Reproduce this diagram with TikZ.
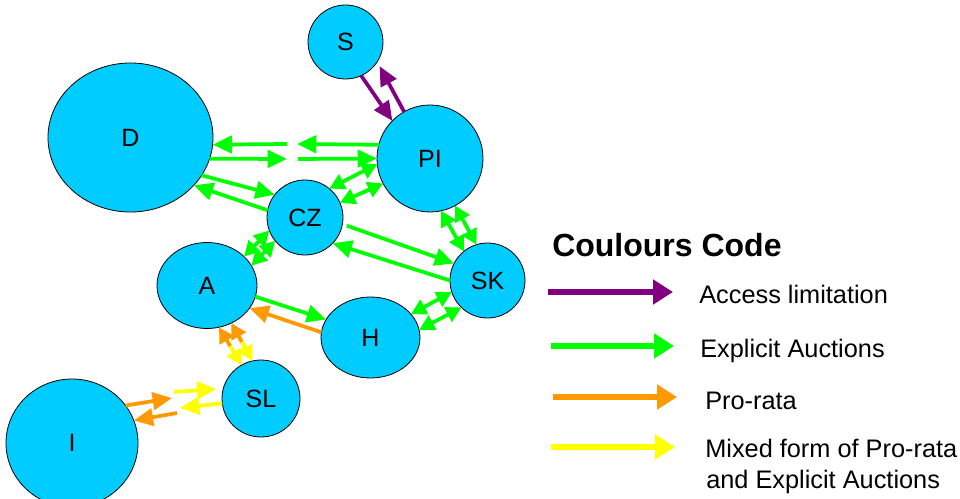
\documentclass[tikz,border=0pt]{standalone}
\usepackage{fontspec}
\setmainfont{Liberation Sans}
\usetikzlibrary{arrows.meta,shapes.geometric,calc}
\definecolor{cfill}{RGB}{0,204,255}
\definecolor{cpur}{RGB}{128,0,128}
\definecolor{cgrn}{RGB}{0,255,0}
\definecolor{corg}{RGB}{255,153,0}
\definecolor{cyel}{RGB}{255,255,0}
\tikzset{
 hd/.tip={Triangle[length=14.5pt 0 0,width=13pt 0 0]},
 hds/.tip={Triangle[length=11.5pt 0 0,width=12pt 0 0]},
 lhd/.tip={Triangle[length=15pt 0 0,width=18pt 0 0]},
 country/.style={ellipse,draw=black,line width=0.6pt,fill=cfill,inner sep=0pt,outer sep=0pt,font=\fontsize{18.75}{22}\selectfont},
 lnk/.style={line width=2.8pt},
 pur/.style={lnk,cpur,-hd},
 grn/.style={lnk,cgrn,-hd},
 grntwo/.style={lnk,cgrn,hds-hds},
 org/.style={lnk,corg,-hd},
 yel/.style={lnk,cyel,-hd},
 orgs/.style={lnk,corg,-hds},
 yels/.style={lnk,cyel,-hds},
 key/.style={line width=4pt,-lhd},
 keytext/.style={anchor=base west,inner sep=0pt,font=\fontsize{19}{23}\selectfont},
}
\begin{document}
\begin{tikzpicture}[x=0.75pt,y=-0.75pt]
\useasboundingbox (0,0) rectangle (960,499);

% countries
\node[country,minimum width=56.25pt,minimum height=55.5pt] (S) at (345.5,42) {S};
\node[country,minimum width=123.75pt,minimum height=111.75pt] (D) at (130.5,137.5) {D};
\node[country,minimum width=79.5pt,minimum height=80.25pt] (PI) at (430,158.5) {PI};
\node[country,minimum width=57pt,minimum height=56.25pt] (CZ) at (305,217.5) {CZ};
\node[country,minimum width=75pt,minimum height=64.5pt] (A) at (207,285.5) {A};
\node[country,minimum width=56.25pt,minimum height=56.25pt] (SK) at (487.5,280.5) {SK};
\node[country,minimum width=74.25pt,minimum height=60.75pt] (H) at (370.5,337.5) {H};
\node[country,minimum width=58.5pt,minimum height=57.75pt] (SL) at (261,398.5) {SL};
\node[country,minimum width=99pt,minimum height=96pt] (I) at (72,443) {I};

% helper coordinates (gaps in chained arrows)
\coordinate (t0) at (287,144);
\coordinate (t1) at (297,144);
\coordinate (b0) at (287,159);
\coordinate (b1) at (298,159);
\coordinate (u1) at (172,398);
\coordinate (u2) at (174,392);
\coordinate (l1) at (180,408);
\coordinate (l2) at (177,413);

% S - PI (access limitation)
\draw[pur] (S.-65) -- (PI.135);
\draw[pur,shorten >=3.75pt] (PI.119) -- (S.-32);

% D - PI
\draw[grn] (PI.165) -- (t1);
\draw[grn] (t0) -- (D.-5);
\draw[grn] (D.-15) -- (b0);
\draw[grn] (b1) -- (PI.180);

% D - CZ
\draw[grn] (D.-28) -- (CZ.143);
\draw[grn] (CZ.169) -- (D.-37);

% CZ - PI
\draw[grntwo] (CZ.50) -- (PI.186);
\draw[grntwo] (CZ.23) -- (PI.208);

% PI - SK
\draw[grntwo] (PI.-78) -- (SK.129);
\draw[grntwo] (PI.-62) -- (SK.107);

% CZ - SK
\draw[grn,shorten <=3.5pt] (CZ.-10) -- (SK.153);
\draw[grn] (SK.180) -- (CZ.-43);

% CZ - A
\draw[grntwo] (A.38) -- (CZ.200);
\draw[grntwo] (A.24) -- (CZ.218);

% SK - H
\draw[grntwo] (H.30) -- (SK.198);
\draw[grntwo] (H.9) -- (SK.226);

% A - H
\draw[grn] (A.-13) -- (H.158);
\draw[org] (H.174) -- (A.-28);

% A - SL (mixed)
\draw[orgs] ($(A.-74)!0.5!(SL.120)$) -- (A.-74);
\draw[yels] ($(A.-74)!0.5!(SL.120)$) -- (SL.120);
\draw[orgs] ($(A.-57)!0.5!(SL.103)$) -- (A.-57);
\draw[yels] ($(A.-57)!0.5!(SL.103)$) -- (SL.103);

% I - SL (mixed)
\draw[org] (I.35) -- (u1);
\draw[yel,shorten >=5.25pt] (u2) -- (SL.165);
\draw[yel] (SL.187) -- (l1);
\draw[org] (l2) -- (I.20);

% legend
\node[anchor=base west,inner sep=0pt,font=\bfseries\fontsize{24}{28}\selectfont] (title) at (552,256) {Coulours Code};
\coordinate (k1a) at (548,292); \coordinate (k1b) at (673,292);
\coordinate (k2a) at (551,346); \coordinate (k2b) at (674,346);
\coordinate (k3a) at (553,397); \coordinate (k3b) at (677,397);
\coordinate (k4a) at (551,447); \coordinate (k4b) at (675,447);
\draw[key,cpur] (k1a) -- (k1b);
\draw[key,cgrn] (k2a) -- (k2b);
\draw[key,corg] (k3a) -- (k3b);
\draw[key,cyel] (k4a) -- (k4b);
\node[keytext] (t1txt) at (699,303) {Access limitation};
\node[keytext] (t2txt) at (700,357) {Explicit Auctions};
\node[keytext] (t3txt) at (705,409) {Pro-rata};
\node[keytext] (t4txt) at (705,457) {Mixed form of Pro-rata};
\node[keytext] (t5txt) at (706,488) {and Explicit Auctions};
\end{tikzpicture}
\end{document}
